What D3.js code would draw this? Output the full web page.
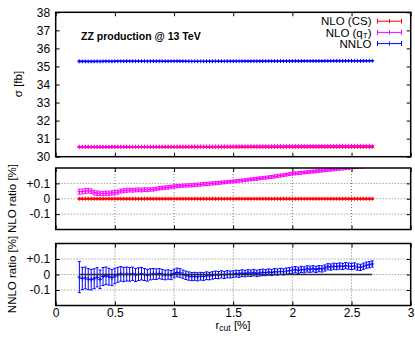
<!DOCTYPE html>
<html>
<head>
<meta charset="utf-8">
<script src="https://cdn.jsdelivr.net/npm/d3@7"></script>
<style>
  body { margin: 0; background: #fff; }
  svg { display: block; }
  text { font-family: "Liberation Sans", Arial, Helvetica, sans-serif; }
</style>
</head>
<body>
<svg id="chart" width="415" height="339"></svg>
<script>
// r_cut values [%]
const rcut = [
  0.200, 0.225, 0.250, 0.275, 0.300, 0.325, 0.350, 0.375, 0.400, 0.425, 0.450, 0.475,
  0.500, 0.525, 0.550, 0.575, 0.600, 0.625, 0.650, 0.675, 0.700, 0.725, 0.750, 0.775,
  0.800, 0.825, 0.850, 0.875, 0.900, 0.925, 0.950, 0.975,
  1.000, 1.025, 1.050, 1.075, 1.100, 1.125, 1.150, 1.175, 1.200, 1.225, 1.250, 1.275,
  1.300, 1.325, 1.350, 1.375, 1.400, 1.425, 1.450, 1.475,
  1.500, 1.525, 1.550, 1.575, 1.600, 1.625, 1.650, 1.675, 1.700, 1.725, 1.750, 1.775,
  1.800, 1.825, 1.850, 1.875, 1.900, 1.925, 1.950, 1.975,
  2.000, 2.025, 2.050, 2.075, 2.100, 2.125, 2.150, 2.175, 2.200, 2.225, 2.250, 2.275,
  2.300, 2.325, 2.350, 2.375, 2.400, 2.425, 2.450, 2.475,
  2.500, 2.525, 2.550, 2.575, 2.600, 2.625, 2.650, 2.675
];

// reference cross sections [fb]
const sigmaNLO = 30.54;
const sigmaNNLO = 35.29;

// NLO (CS): exact, r_cut independent -> ratio 0
const csRatio = rcut.map(() => 0);
const csErr = rcut.map(() => 0.004);

// NLO (qT) relative deviation [%]
const qtRatio = [
  0.046, 0.047, 0.050, 0.052, 0.049, 0.040, 0.036, 0.035, 0.034, 0.036, 0.035, 0.038,
  0.040, 0.043, 0.050, 0.053, 0.055, 0.056, 0.055, 0.057, 0.058, 0.057, 0.059, 0.058,
  0.060, 0.061, 0.064, 0.068, 0.070, 0.072, 0.074, 0.077,
  0.080, 0.082, 0.083, 0.085, 0.086, 0.087, 0.088, 0.090, 0.091, 0.093, 0.095, 0.096,
  0.098, 0.100, 0.101, 0.103, 0.105, 0.107, 0.109, 0.111,
  0.113, 0.115, 0.117, 0.119, 0.121, 0.124, 0.126, 0.128, 0.130, 0.133, 0.135, 0.137,
  0.140, 0.142, 0.145, 0.148, 0.151, 0.154, 0.157, 0.160,
  0.163, 0.165, 0.167, 0.169, 0.171, 0.173, 0.175, 0.177, 0.179, 0.181, 0.183, 0.185,
  0.187, 0.189, 0.191, 0.193, 0.195, 0.197, 0.199, 0.201,
  0.203, 0.205, 0.207, 0.209, 0.211, 0.213, 0.215, 0.217
];
const qtErr = [
  0.016, 0.016, 0.016, 0.015, 0.015, 0.015, 0.015, 0.014, 0.014, 0.014, 0.014, 0.014,
  0.013, 0.013, 0.013, 0.013, 0.013, 0.012, 0.012, 0.012, 0.012, 0.012, 0.012, 0.012,
  0.011, 0.011, 0.011, 0.011, 0.011, 0.011, 0.011, 0.011,
  0.011, 0.011, 0.010, 0.010, 0.010, 0.010, 0.010, 0.010, 0.010, 0.010, 0.010, 0.010,
  0.010, 0.010, 0.010, 0.010, 0.009, 0.009, 0.009, 0.009,
  0.009, 0.009, 0.009, 0.009, 0.009, 0.009, 0.009, 0.009, 0.009, 0.009, 0.009, 0.009,
  0.009, 0.009, 0.009, 0.009, 0.009, 0.009, 0.009, 0.009,
  0.009, 0.009, 0.009, 0.009, 0.009, 0.009, 0.009, 0.009, 0.009, 0.009, 0.009, 0.009,
  0.009, 0.009, 0.009, 0.009, 0.009, 0.009, 0.009, 0.009,
  0.009, 0.009, 0.009, 0.009, 0.009, 0.009, 0.009, 0.009
];

// NNLO relative deviation [%]
const nnloRatio = [
  -0.017, -0.026, -0.022, -0.030, -0.033, -0.027, -0.018, -0.031, -0.013, -0.008, -0.014, -0.020,
  -0.010, -0.002, 0.004, 0.000, 0.003, 0.001, 0.005, -0.003, 0.002, 0.005, 0.000, -0.005,
  0.001, 0.004, 0.002, 0.006, 0.001, -0.003, 0.000, -0.004,
  0.006, 0.013, 0.010, 0.002, -0.005, -0.010, -0.014, -0.012, -0.015, -0.011, -0.013, -0.008,
  -0.010, -0.006, -0.002, -0.004, 0.001, -0.003, 0.002, 0.000,
  0.002, 0.006, 0.004, 0.009, 0.006, 0.010, 0.008, 0.012, 0.007, 0.011, 0.014, 0.012,
  0.016, 0.013, 0.018, 0.016, 0.020, 0.017, 0.022, 0.024,
  0.028, 0.031, 0.027, 0.033, 0.030, 0.036, 0.034, 0.037, 0.033, 0.038, 0.036, 0.042,
  0.050, 0.048, 0.053, 0.051, 0.055, 0.052, 0.057, 0.054,
  0.052, 0.055, 0.048, 0.046, 0.053, 0.060, 0.063, 0.068
];
const nnloErr = [
  0.100, 0.072, 0.070, 0.068, 0.066, 0.064, 0.062, 0.060, 0.058, 0.056, 0.054, 0.052,
  0.050, 0.048, 0.047, 0.046, 0.045, 0.044, 0.043, 0.042, 0.041, 0.040, 0.039, 0.038,
  0.036, 0.035, 0.034, 0.033, 0.032, 0.031, 0.030, 0.029,
  0.028, 0.028, 0.028, 0.027, 0.027, 0.027, 0.026, 0.026, 0.026, 0.025, 0.025, 0.025,
  0.024, 0.024, 0.024, 0.023, 0.023, 0.023, 0.023, 0.022,
  0.022, 0.022, 0.022, 0.022, 0.021, 0.021, 0.021, 0.021, 0.021, 0.021, 0.021, 0.020,
  0.020, 0.020, 0.020, 0.020, 0.020, 0.020, 0.020, 0.020,
  0.020, 0.020, 0.020, 0.020, 0.020, 0.020, 0.020, 0.020, 0.020, 0.020, 0.020, 0.020,
  0.020, 0.020, 0.020, 0.020, 0.020, 0.020, 0.020, 0.020,
  0.020, 0.020, 0.020, 0.020, 0.020, 0.020, 0.020, 0.020
];

const xTicks = [0, 0.5, 1, 1.5, 2, 2.5, 3];
const sigmaTicks = [30, 31, 32, 33, 34, 35, 36, 37, 38];
const ratioTicks = [-0.1, 0, 0.1];
const ratioLabels = { "-0.1": "-0.1", "0": "0", "0.1": "+0.1" };

const colors = { cs: "#ff0000", qt: "#ff00ff", nnlo: "#0000ff" };

const svg = d3.select("#chart");
const x = d3.scaleLinear().domain([0, 3]).range([55.7, 410.7]);
const yTop = d3.scaleLinear().domain([30, 38]).range([156.7, 12.3]);
const yMid = d3.scaleLinear().domain([-0.2, 0.2]).range([229.5, 168]);
const yBot = d3.scaleLinear().domain([-0.2, 0.2]).range([305.5, 243.5]);

const X0 = x.range()[0], X1 = x.range()[1];
const defs = svg.append("defs");

function panel(y, yVals, yFmt, withGrid, showX, id) {
  const [yb, yt] = y.range();
  defs.append("clipPath").attr("id", id)
    .append("rect").attr("x", X0).attr("y", yt).attr("width", X1 - X0).attr("height", yb - yt);

  const g = svg.append("g");
  if (withGrid) {
    const grid = g.append("g").attr("stroke", "#6e6e6e").attr("stroke-width", 0.9)
      .attr("stroke-dasharray", "1,2");
    xTicks.filter(t => t > 0 && t < 3).forEach(t => {
      grid.append("line").attr("x1", x(t)).attr("x2", x(t)).attr("y1", yt).attr("y2", yb);
    });
    yVals.forEach(v => {
      grid.append("line").attr("x1", X0).attr("x2", X1).attr("y1", y(v)).attr("y2", y(v));
    });
  }

  const styleAxis = a => {
    a.select(".domain").remove();
    a.selectAll("line").attr("stroke", "#000").attr("stroke-width", 1);
    a.selectAll("text").attr("font-size", 12).attr("fill", "#000")
      .attr("font-family", '"Liberation Sans", Arial, sans-serif');
  };

  g.append("g").attr("transform", `translate(${X0},0)`)
    .call(d3.axisLeft(y).tickValues(yVals).tickSize(-4).tickPadding(5.5).tickFormat(yFmt))
    .call(styleAxis);
  g.append("g").attr("transform", `translate(${X1},0)`)
    .call(d3.axisRight(y).tickValues(yVals).tickSize(-4).tickFormat(""))
    .call(styleAxis);
  g.append("g").attr("transform", `translate(0,${yt})`)
    .call(d3.axisTop(x).tickValues(xTicks).tickSize(-4).tickFormat(""))
    .call(styleAxis);
  g.append("g").attr("transform", `translate(0,${yb})`)
    .call(d3.axisBottom(x).tickValues(xTicks).tickSize(-4).tickPadding(3)
      .tickFormat(showX ? d3.format("") : ""))
    .call(styleAxis);

  const data = g.append("g").attr("clip-path", `url(#${id})`);
  g.append("rect").attr("x", X0).attr("y", yt)
    .attr("width", X1 - X0).attr("height", yb - yt)
    .attr("fill", "none").attr("stroke", "#000").attr("stroke-width", 1.5);
  return data;
}

// error bars with caps and a "+" marker at each point
function errorSeries(layer, y, vals, errs, color, cap = 1.5, ms = 2) {
  const p = d3.path();
  rcut.forEach((r, i) => {
    const cx = x(r), cy = y(vals[i]);
    const lo = y(vals[i] - errs[i]), hi = y(vals[i] + errs[i]);
    p.moveTo(cx, hi); p.lineTo(cx, lo);
    p.moveTo(cx - cap, hi); p.lineTo(cx + cap, hi);
    p.moveTo(cx - cap, lo); p.lineTo(cx + cap, lo);
    p.moveTo(cx - ms, cy); p.lineTo(cx + ms, cy);
    p.moveTo(cx, cy - ms); p.lineTo(cx, cy + ms);
  });
  layer.append("path").attr("d", p.toString())
    .attr("fill", "none").attr("stroke", color).attr("stroke-width", 1);
}

// --- upper panel: absolute cross sections
const upperLayer = panel(yTop, sigmaTicks, d3.format(""), false, false, "clipUpper");
const abs = (base, arr) => arr.map(v => base * (1 + v / 100));
const absErr = (base, arr) => arr.map(v => base * v / 100);
errorSeries(upperLayer, yTop, abs(sigmaNLO, csRatio), absErr(sigmaNLO, csErr), colors.cs);
errorSeries(upperLayer, yTop, abs(sigmaNLO, qtRatio), absErr(sigmaNLO, qtErr), colors.qt);
errorSeries(upperLayer, yTop, abs(sigmaNNLO, nnloRatio), absErr(sigmaNNLO, nnloErr), colors.nnlo);

// --- middle panel: NLO ratio
const fmtRatio = v => ratioLabels[String(+v.toFixed(1))];
const midLayer = panel(yMid, ratioTicks, fmtRatio, true, false, "clipMid");
errorSeries(midLayer, yMid, qtRatio, qtErr, colors.qt);
errorSeries(midLayer, yMid, csRatio, csErr, colors.cs);

// --- lower panel: NNLO ratio
const lowLayer = panel(yBot, ratioTicks, fmtRatio, true, true, "clipLow");
errorSeries(lowLayer, yBot, nnloRatio, nnloErr, colors.nnlo);
lowLayer.append("line")
  .attr("x1", x(rcut[0])).attr("x2", x(rcut[rcut.length - 1]))
  .attr("y1", yBot(0)).attr("y2", yBot(0))
  .attr("stroke", "#2a2a2a").attr("stroke-width", 1.5);

// --- titles and axis labels
svg.append("text").attr("x", 81).attr("y", 39.5)
  .attr("font-size", 10.5).attr("font-weight", "bold").text("ZZ production @ 13 TeV");

function yLabel(cx, cy, txt) {
  svg.append("text").attr("transform", `translate(${cx},${cy}) rotate(-90)`)
    .attr("text-anchor", "middle").attr("font-size", 11.5).text(txt);
}
yLabel(21.5, 84, "σ [fb]");
yLabel(15.5, 198.5, "NLO ratio [%]");
yLabel(15.5, 274.5, "NNLO ratio [%]");

const xl = svg.append("text").attr("x", 233).attr("y", 328.5)
  .attr("text-anchor", "middle").attr("font-size", 11.5);
xl.append("tspan").text("r");
xl.append("tspan").attr("font-size", 8.5).attr("dy", 2.5).text("cut");
xl.append("tspan").attr("dy", -2.5).text(" [%]");

// --- legend
const legendItems = [
  { label: ["NLO (CS)"], color: colors.cs },
  { label: ["NLO (q", "T", ")"], color: colors.qt },
  { label: ["NNLO"], color: colors.nnlo }
];
legendItems.forEach((d, k) => {
  const cy = 21.2 + 11.2 * k;
  const t = svg.append("text").attr("x", 371.5).attr("y", cy + 4.2)
    .attr("text-anchor", "end").attr("font-size", 11.5);
  if (d.label.length === 1) {
    t.text(d.label[0]);
  } else {
    t.append("tspan").text(d.label[0]);
    t.append("tspan").attr("font-size", 8).attr("dy", 1.6).text(d.label[1]);
    t.append("tspan").attr("dy", -1.6).text(d.label[2]);
  }
  const x1 = 377.5, x2 = 401.5, xm = (x1 + x2) / 2;
  const p = d3.path();
  p.moveTo(x1, cy); p.lineTo(x2, cy);
  p.moveTo(x1, cy - 2.5); p.lineTo(x1, cy + 2.5);
  p.moveTo(x2, cy - 2.5); p.lineTo(x2, cy + 2.5);
  p.moveTo(xm, cy - 2); p.lineTo(xm, cy + 2);
  svg.append("path").attr("d", p.toString()).attr("fill", "none")
    .attr("stroke", d.color).attr("stroke-width", 1);
});
</script>
</body>
</html>
